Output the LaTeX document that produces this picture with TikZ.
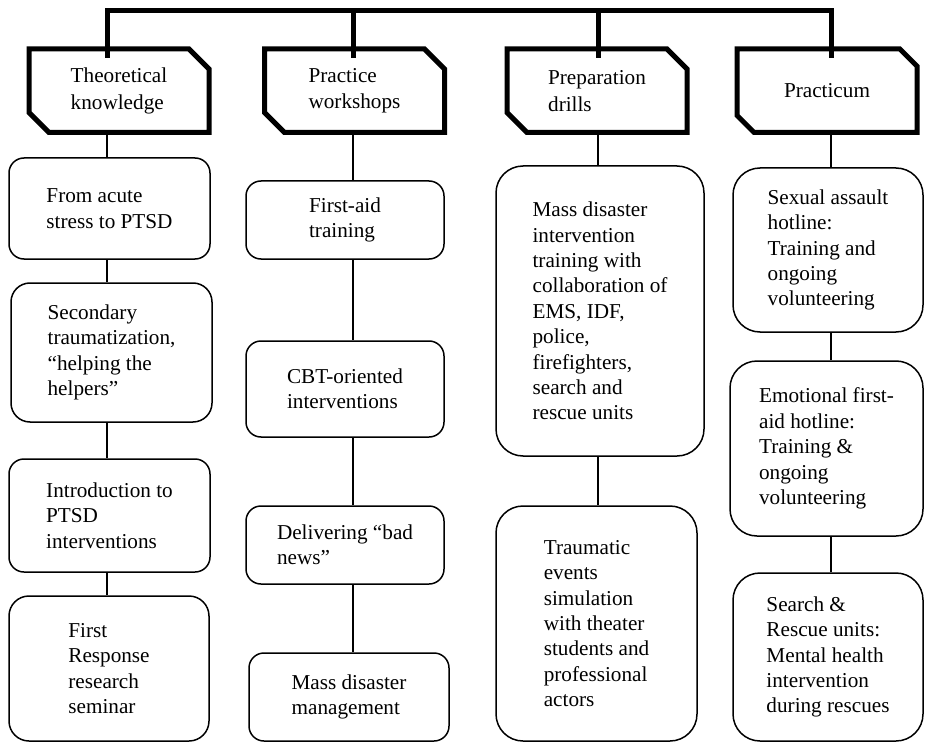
\documentclass[tikz,border=0pt]{standalone}
\usepackage{fontspec}
\setmainfont{Liberation Serif}
\usetikzlibrary{shapes.misc}
\tikzset{
  trunk/.style={line width=5pt},
  link/.style={line width=1.5pt},
  head/.style={chamfered rectangle, chamfered rectangle corners={north east, south west},
    chamfered rectangle xsep=10pt, chamfered rectangle ysep=10pt, draw, line width=5pt,
    minimum width=180pt, minimum height=83.5pt, inner sep=0pt, align=left,
    font=\fontsize{21.2}{26.7}\selectfont},
  topic/.style 2 args={draw, line width=1.5pt, rounded corners=15pt, minimum width=#1,
    minimum height=#2, inner sep=0pt, align=left, font=\fontsize{21.2}{25.4}\selectfont},
  big/.style={rounded corners=27pt}
}
\begin{document}
\begin{tikzpicture}[x=1pt,y=-1pt]
\useasboundingbox (0,0) rectangle (925,743);
\node[head] (h1) at (119,90.75) {Theoretical\\knowledge};
\node[head] (h2) at (354.5,90.75) {Practice\\workshops};
\node[head] (h3) at (597,90.75) {Preparation\\drills};
\node[head] (h4) at (827,90.75) {Practicum};
\coordinate (e1) at (107,58);
\coordinate (e2) at (353,58);
\coordinate (e3) at (598,58);
\coordinate (e4) at (831,58);
\coordinate (b1) at (107,11);
\coordinate (b4) at (831,11);
\draw[trunk] (e1) -- (b1) -- (b4) -- (e4);
\draw[trunk] (e2) -- (e2 |- b1);
\draw[trunk] (e3) -- (e3 |- b1);
\node[topic={201pt}{101pt}] (a1) at (109.5,208.5) {From acute\\stress to PTSD};
\node[topic={201pt}{139pt}, rounded corners=19pt] (a2) at (111.5,352.5) {Secondary\\traumatization,\\“helping the\\helpers”};
\node[topic={201pt}{113pt}] (a3) at (109.5,515.5) {Introduction to\\PTSD\\interventions};
\node[topic={200pt}{145pt}, rounded corners=20pt] (a4) at (109,668.5) {First\\Response\\research\\seminar};
\node[topic={198pt}{78pt}] (p1) at (345,220) {First-aid\\training};
\node[topic={198pt}{96pt}] (p2) at (345,389) {CBT-oriented\\interventions};
\node[topic={198pt}{78pt}] (p3) at (345,545) {Delivering “bad\\news”};
\node[topic={200pt}{88pt}] (p4) at (349,697) {Mass disaster\\management};
\node[topic={208pt}{290pt}, big] (d1) at (600,311) {Mass disaster\\intervention\\training with\\collaboration of\\EMS, IDF,\\police,\\firefighters,\\search and\\rescue units};
\node[topic={201pt}{235pt}, big] (d2) at (596.5,623.5) {Traumatic\\events\\simulation\\with theater\\students and\\professional\\actors};
\node[topic={190pt}{164pt}, big] (c1) at (828,250) {Sexual assault\\hotline:\\Training and\\ongoing\\volunteering};
\node[topic={193pt}{175pt}, big] (c2) at (826.5,448.5) {Emotional first-\\aid hotline:\\Training \&\\ongoing\\volunteering};
\node[topic={190pt}{168pt}, big] (c3) at (828,657) {Search \&\\Rescue units:\\Mental health\\intervention\\during rescues};
\draw[link] (h1.south -| e1) -- (a1.north -| e1);
\draw[link] (a1.south -| e1) -- (a2.north -| e1);
\draw[link] (a2.south -| e1) -- (a3.north -| e1);
\draw[link] (a3.south -| e1) -- (a4.north -| e1);
\draw[link] (h2.south -| e2) -- (p1.north -| e2);
\draw[link] (p1.south -| e2) -- (p2.north -| e2);
\draw[link] (p2.south -| e2) -- (p3.north -| e2);
\draw[link] (p3.south -| e2) -- (p4.north -| e2);
\draw[link] (h3.south -| e3) -- (d1.north -| e3);
\draw[link] (d1.south -| e3) -- (d2.north -| e3);
\draw[link] (h4.south -| e4) -- (c1.north -| e4);
\draw[link] (c1.south -| e4) -- (c2.north -| e4);
\draw[link] (c2.south -| e4) -- (c3.north -| e4);
\end{tikzpicture}
\end{document}
